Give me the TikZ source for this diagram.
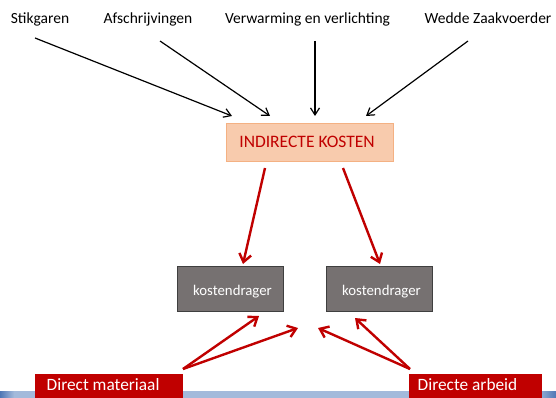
\documentclass[tikz,border=0pt]{standalone}
\usepackage{fontspec}
\setmainfont{Carlito}
\usetikzlibrary{arrows.meta}
\definecolor{peach}{HTML}{F8CBAD}
\definecolor{peachline}{HTML}{F4B183}
\definecolor{darkred}{HTML}{C00000}
\definecolor{boxgray}{HTML}{767171}
\definecolor{boxline}{HTML}{3F3F3F}
\definecolor{stripblue}{HTML}{A3BADB}
\definecolor{stripdark}{HTML}{4F77B5}
\tikzset{
  lbl/.style={font=\fontsize{15.5}{18}\selectfont, text=black, inner sep=0pt, anchor=base},
  blackarrow/.style={draw=black, line width=1.2pt, -{Straight Barb[length=7pt,width=9pt]}},
  redarrow/.style={draw=darkred, line width=2.4pt, -{Straight Barb[length=8pt,width=12pt]}},
  costbox/.style={draw=peachline, fill=peach, line width=0.8pt,
    minimum width=167pt, minimum height=38pt, inner sep=0pt},
  costtext/.style={text=darkred, font=\fontsize{17.5}{20}\selectfont, inner sep=0pt, anchor=base},
  carrier/.style={draw=boxline, fill=boxgray, line width=0.8pt,
    minimum width=106pt, minimum height=45pt, inner sep=0pt},
  carriertext/.style={text=white, font=\fontsize{14.8}{17}\selectfont, inner sep=0pt, anchor=base},
  redbox/.style={fill=darkred, anchor=north west, inner sep=0pt},
  redtext/.style={text=white, font=\fontsize{17.3}{20}\selectfont, anchor=base west, inner sep=0pt}
}
\begin{document}
\begin{tikzpicture}[x=1pt,y=-1pt]
  \useasboundingbox (0,0) rectangle (556,398);
  \clip (0,0) rectangle (556,398);
  % footer strip
  \fill[stripblue] (0,391) rectangle (556,398);
  \shade[left color=stripdark, right color=stripblue] (0,391) rectangle (14,398);
  \shade[left color=stripblue, right color=stripdark] (536,391) rectangle (556,398);

  % cost items
  \node[lbl] (stik) at (40,24) {Stikgaren};
  \node[lbl] (afs) at (148,24) {Afschrijvingen};
  \node[lbl] (verw) at (307.5,24) {Verwarming en verlichting};
  \node[lbl] (wedde) at (488,24) {Wedde Zaakvoerder};

  % central boxes
  \node[costbox] (ind) at (310,142) {};
  \node[costtext] (indt) at (307,148) {INDIRECTE KOSTEN};
  \node[carrier] (kd1) at (230,288.5) {};
  \node[carriertext] (kd1t) at (232.5,295) {kostendrager};
  \node[carrier] (kd2) at (379,288.5) {};
  \node[carriertext] (kd2t) at (381.5,295) {kostendrager};

  % direct cost boxes
  \node[redbox, minimum width=148pt, minimum height=30pt] (dm) at (35,374) {};
  \node[redtext] (dmt) at (46.5,390) {Direct materiaal};
  \node[redbox, minimum width=133pt, minimum height=30pt] (da) at (409,374) {};
  \node[redtext] (dat) at (417.5,390) {Directe arbeid};

  % arrow end points
  \coordinate (s1) at (35,38);   \coordinate (e1) at (232,116);
  \coordinate (s2) at (160,41);  \coordinate (e2) at (270,116);
  \coordinate (s3) at (315,41);  \coordinate (e3) at (315,116);
  \coordinate (s4) at (468,41);  \coordinate (e4) at (366,116);
  \draw[blackarrow] (s1) -- (e1);
  \draw[blackarrow] (s2) -- (e2);
  \draw[blackarrow] (s3) -- (e3);
  \draw[blackarrow] (s4) -- (e4);

  \coordinate (r1s) at (265,168); \coordinate (r1e) at (243,264);
  \coordinate (r2s) at (343,168); \coordinate (r2e) at (380,264);
  \draw[redarrow] (r1s) -- (r1e);
  \draw[redarrow] (r2s) -- (r2e);

  \coordinate (dmtip) at (183,369);
  \coordinate (datip) at (410,369);
  \coordinate (m1) at (259,316);
  \coordinate (m2) at (298,328);
  \coordinate (a1) at (318,328);
  \coordinate (a2) at (355,318);
  \draw[redarrow] (dmtip) -- (m1);
  \draw[redarrow] (dmtip) -- (m2);
  \draw[redarrow] (datip) -- (a1);
  \draw[redarrow] (datip) -- (a2);
\end{tikzpicture}
\end{document}
